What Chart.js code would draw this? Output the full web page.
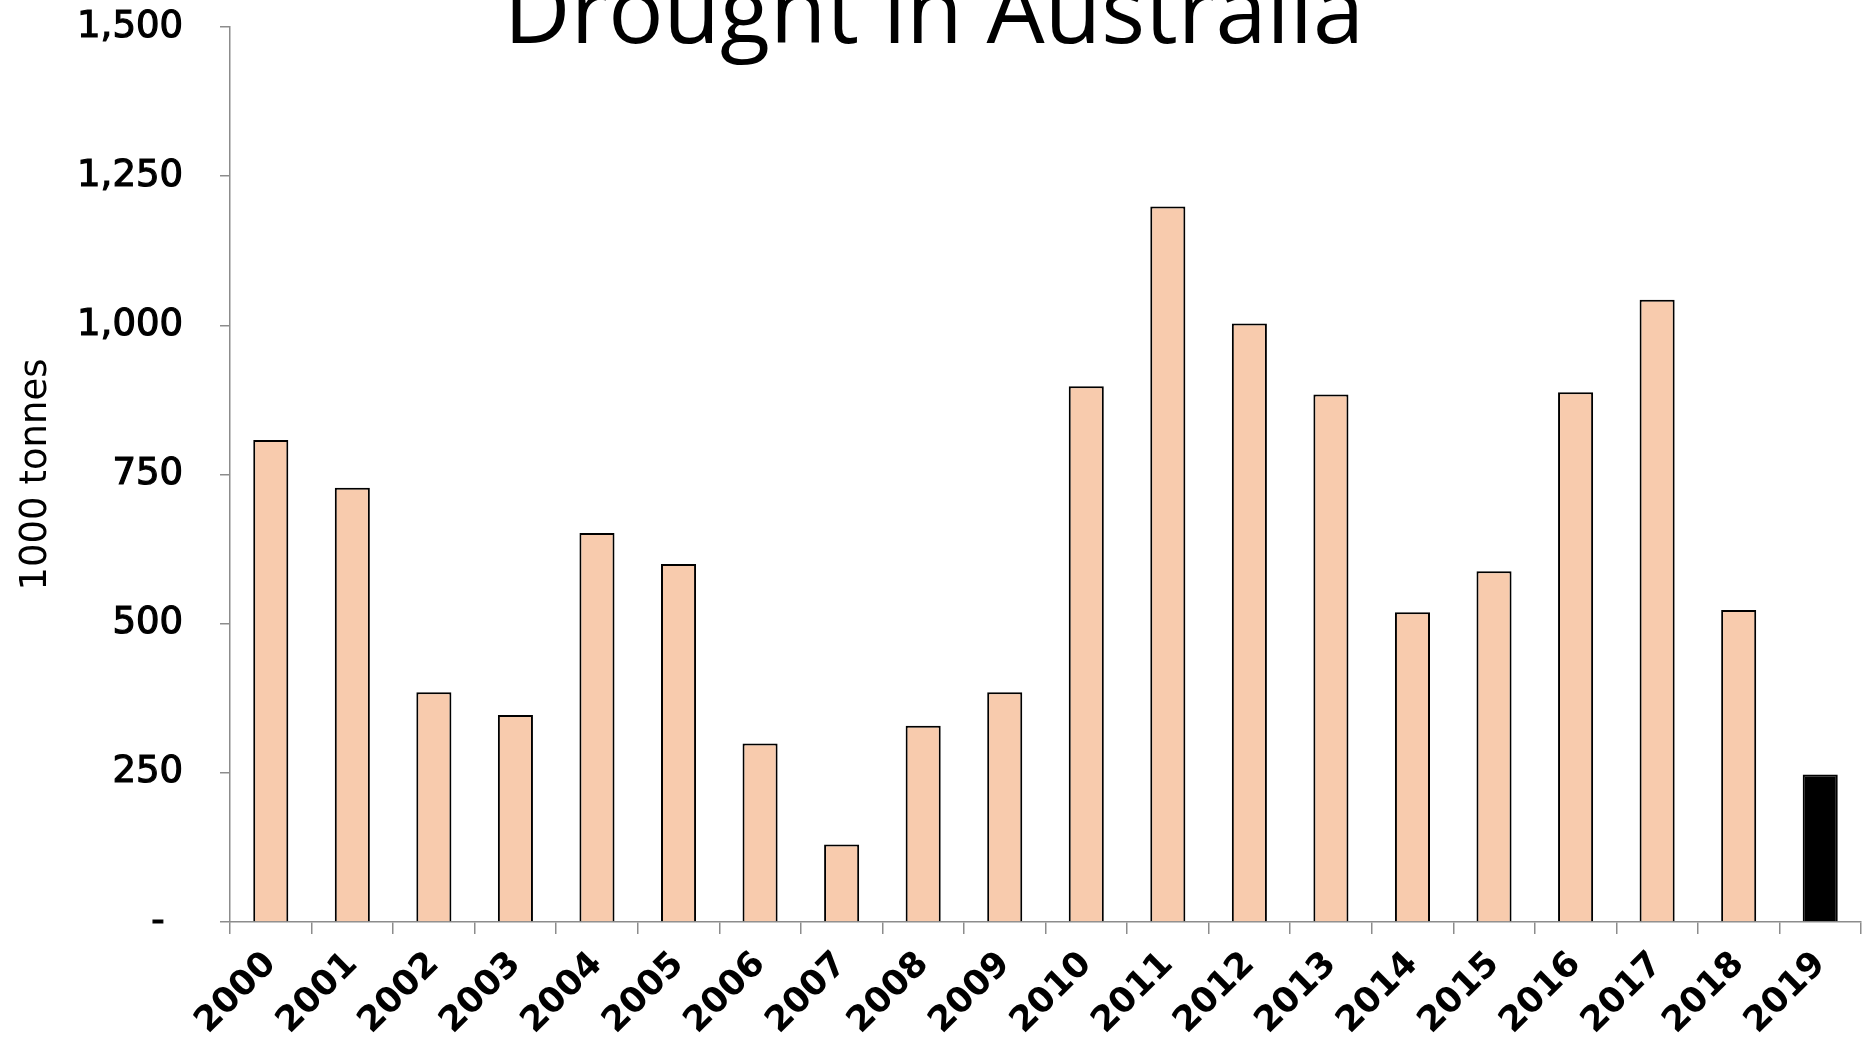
<!DOCTYPE html>
<html>
<head>
<meta charset="utf-8">
<script src="https://cdn.jsdelivr.net/npm/chart.js@4"></script>
<style>
  html, body { margin: 0; padding: 0; background: #fff; }
  #wrap { width: 1865px; height: 1040px; position: relative; }
</style>
</head>
<body>
<div id="wrap"><canvas id="chart"></canvas></div>
<script>
const years = ["2000", "2001", "2002", "2003", "2004", "2005", "2006", "2007", "2008", "2009",
  "2010", "2011", "2012", "2013", "2014", "2015", "2016", "2017", "2018", "2019"];
const tonnes = [808, 728, 385, 347, 652, 600, 299, 130, 329, 385,
  898, 1199, 1003, 884, 519, 588, 888, 1043, 523, 247];
const yTicks = [0, 250, 500, 750, 1000, 1250, 1500];

const barFill = years.map(y => (y === "2019" ? "#000000" : "#f8cbad"));
const axisGrey = "#8c8c8c";

// title sits partly above the canvas top, like the original slide
const titlePlugin = {
  id: "topTitle",
  afterDraw(chart) {
    const c = chart.ctx;
    c.save();
    c.font = '92px "Open Sans"';
    c.fillStyle = "#000";
    c.textAlign = "center";
    c.textBaseline = "alphabetic";
    c.fillText("Drought in Australia", 934, 43);
    c.restore();
  },
};

const ctx = document.getElementById("chart").getContext("2d");

new Chart(ctx, {
  type: "bar",
  data: {
    labels: years,
    datasets: [
      {
        label: "1000 tonnes",
        data: tonnes,
        backgroundColor: barFill,
        borderColor: "#000000",
        borderWidth: 2,
        barPercentage: 0.43,
        categoryPercentage: 1,
      },
    ],
  },
  options: {
    responsive: true,
    maintainAspectRatio: false,
    animation: false,
    layout: {
      padding: { top: 27, right: 4, bottom: 0, left: 0 },
    },
    plugins: {
      legend: { display: false },
      tooltip: { enabled: false },
    },
    scales: {
      x: {
        border: { color: axisGrey, width: 1.5 },
        grid: {
          offset: true,
          drawOnChartArea: false,
          color: axisGrey,
          lineWidth: 1.5,
          tickLength: 12,
        },
        ticks: {
          color: "#000",
          font: { family: "DejaVu Sans", size: 35, weight: "bold" },
          minRotation: 45,
          maxRotation: 45,
          padding: 10,
          autoSkip: false,
        },
        afterFit: s => { s.height = 118; },
      },
      y: {
        min: 0,
        max: 1500,
        border: { color: axisGrey, width: 1.5 },
        grid: {
          drawOnChartArea: false,
          color: axisGrey,
          lineWidth: 1.5,
          tickLength: 10,
        },
        afterBuildTicks: s => { s.ticks = yTicks.map(v => ({ value: v })); },
        ticks: {
          color: "#000",
          font: { family: "DejaVu Sans", size: 37 },
          textStrokeColor: "#000",
          textStrokeWidth: 1.2,
          padding: 37,
          callback: v => (v === 0 ? "-\u2002" : v.toLocaleString("en-US")),
        },
        title: {
          display: true,
          text: "1000 tonnes",
          color: "#000",
          font: { family: "DejaVu Sans", size: 37 },
          padding: { top: 14, bottom: 0 },
        },
        afterFit: s => {
          s.width = 230;
          s.paddingTop = 0;
          s.paddingBottom = 0;
        },
      },
    },
  },
  plugins: [titlePlugin],
});
</script>
</body>
</html>
